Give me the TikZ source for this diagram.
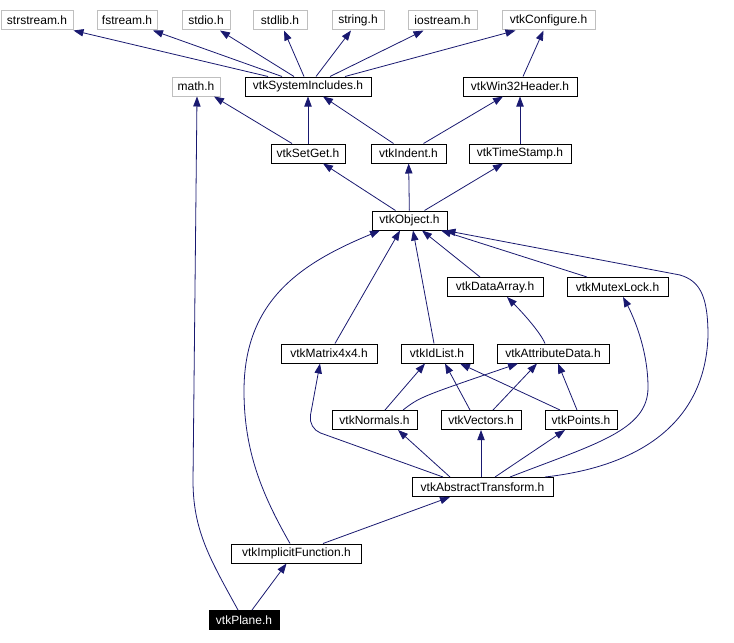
\documentclass[tikz,border=0pt]{standalone}
\usepackage{fontspec}
\setmainfont{Liberation Sans}
\usetikzlibrary{arrows.meta,calc}
\definecolor{dotblue}{RGB}{25,25,112}
\definecolor{extgray}{RGB}{191,191,191}

\begin{document}
\begin{tikzpicture}[x=0.75pt,y=-0.75pt,
  b/.style={draw,line width=0.75pt,fill=white,font=\fontsize{9}{10}\selectfont,inner sep=0pt,minimum height=14.25pt},
  ext/.style={b,draw=extgray},
  root/.style={b,fill=black,text=white},
  wd/.style={minimum width=#1*0.75pt},
  f/.style={-{Triangle[length=7.5pt,width=5.5pt]},dotblue,line width=0.6pt}]
\useasboundingbox (0,0) rectangle (734,642);
\node[ext,wd=72] (strs) at (37,20.5) {strstream.h};
\node[ext,wd=60] (fstr) at (127,20.5) {fstream.h};
\node[ext,wd=48] (stdio) at (206,20.5) {stdio.h};
\node[ext,wd=54] (stdlb) at (280,20.5) {stdlib.h};
\node[ext,wd=52] (strg) at (358,20.5) {string.h};
\node[ext,wd=69] (iostr) at (442.5,20.5) {iostream.h};
\node[ext,wd=93] (conf) at (548.5,20.5) {vtkConfigure.h};
\node[ext,wd=48] (math) at (196,86.5) {math.h};
\node[b,wd=126] (sys) at (308,86.5) {vtkSystemIncludes.h};
\node[b,wd=114] (win) at (520,86.5) {vtkWin32Header.h};
\node[b,wd=74] (setget) at (308,153.5) {vtkSetGet.h};
\node[b,wd=75] (indent) at (408.5,153.5) {vtkIndent.h};
\node[b,wd=102] (tstamp) at (520,153.5) {vtkTimeStamp.h};
\node[b,wd=75] (obj) at (409.5,220.5) {vtkObject.h};
\node[b,wd=96] (darr) at (495,287) {vtkDataArray.h};
\node[b,wd=101] (mutex) at (617.5,287) {vtkMutexLock.h};
\node[b,wd=96] (matrix) at (329,353.5) {vtkMatrix4x4.h};
\node[b,wd=72] (idl) at (437,353.5) {vtkIdList.h};
\node[b,wd=112] (attr) at (553,353.5) {vtkAttributeData.h};
\node[b,wd=85] (norm) at (374.5,420) {vtkNormals.h};
\node[b,wd=80] (vec) at (481,420) {vtkVectors.h};
\node[b,wd=72] (pts) at (581,420) {vtkPoints.h};
\node[b,wd=141] (abs) at (482.5,487) {vtkAbstractTransform.h};
\node[b,wd=130] (impl) at (296.5,553.5) {vtkImplicitFunction.h};
\node[root,wd=70] (plane) at (244,620) {vtkPlane.h};
\draw[f] ($(sys.north)+(-40,0)$)--(strs.south east); \draw[f] ($(sys.north)+(-26,0)$)--($(fstr.south)+(26,0)$);
\draw[f] ($(sys.north)+(-14,0)$)--($(stdio.south)+(14,0)$); \draw[f] ($(sys.north)+(-4,0)$)--($(stdlb.south)+(4,0)$);
\draw[f] ($(sys.north)+(8,0)$)--($(strg.south)+(-7,0)$); \draw[f] ($(sys.north)+(22,0)$)--($(iostr.south)+(-19,0)$);
\draw[f] ($(sys.north)+(37,0)$)--($(conf.south)+(-33,0)$); \draw[f] ($(win.north)+(3,0)$)--($(conf.south)+(-5,0)$);
\draw[f] ($(setget.north)+(-16,0)$)--($(math.south)+(18,0)$); \draw[f] (setget)--(sys);
\draw[f] ($(indent.north)+(-15,0)$)--($(sys.south)+(15,0)$); \draw[f] ($(indent.north)+(15,0)$)--($(win.south)+(-17,0)$);
\draw[f] (tstamp)--(win);
\draw[f] ($(obj.north)+(-14,0)$)--($(setget.south)+(15,0)$); \draw[f] (obj)--(indent);
\draw[f] ($(obj.north)+(15,0)$)--($(tstamp.south)+(-17,0)$);
\draw[f] ($(darr.north)+(-15,0)$)--($(obj.south)+(12.5,0)$); \draw[f] ($(mutex.north)+(-30.5,0)$)--($(obj.south)+(31.5,0)$);
\draw[f] ($(matrix.north)+(6,0)$)--($(obj.south)+(-9.5,0)$); \draw[f] ($(idl.north)+(-3,0)$)--($(obj.south)+(3.5,0)$);
\draw[f] ($(attr.north)+(-8,0)$) .. controls +(-5,-12) and +(14,14) .. ($(darr.south)+(12,0)$);
\draw[f] ($(norm.north)+(10.5,0)$)--($(idl.south)+(-12,0)$); \draw[f] ($(norm.north)+(28.5,0)$) .. controls +(17,-13) .. ($(attr.south)+(-35,0)$);
\draw[f] ($(vec.north)+(-11,0)$)--($(idl.south)+(8,0)$); \draw[f] ($(vec.north)+(12,0)$)--($(attr.south)+(-16,0)$);
\draw[f] ($(pts.north)+(-21,0)$)--($(idl.south)+(23,0)$); \draw[f] ($(pts.north)+(-4,0)$)--($(attr.south)+(5,0)$);
\draw[f,rounded corners=10] ($(abs.north)+(-39.5,0)$)--($(matrix.south)+(-21,65)$)--($(matrix.south)+(-9,0)$);
\draw[f] ($(abs.north)+(-32.5,0)$)--($(norm.south)+(23.5,0)$); \draw[f] (abs.north-|vec.south)--(vec.south);
\draw[f] ($(abs.north)+(12.5,0)$)--($(pts.south)+(-16,0)$);
\draw[f] ($(abs.north)+(27.5,0)$) .. controls +(85,-33) and +(0,43) .. ($(mutex.south)+(30.5,90.5)$) .. controls +(0,-42) and +(7,13) .. ($(mutex.south)+(5.5,0)$);
\draw[f] ($(abs.north)+(62.5,0)$) .. controls +(90,-10) and +(-3,90) .. ($(obj.south)+(298.5,105.5)$) .. controls +(0,-40) and +(20,6) .. ($(obj.south)+(270.5,44.5)$) -- ($(obj.south)+(36,0)$);
\draw[f] ($(impl.north)+(-6.5,0)$) .. controls +(-28,-49) and +(0,60) .. ($(obj.south)+(-165.5,160.5)$) .. controls +(0,-90) and +(-80,33) .. ($(obj.south)+(-29.5,0)$);
\draw[f] ($(impl.north)+(26.5,0)$)--($(abs.south)+(-32.5,0)$);
\draw[f] ($(plane.north)+(-6,0)$) .. controls +(-28,-51) and +(0,50) .. ($(math.south)+(-3,384)$) -- ($(math.south)+(1,0)$);
\draw[f] ($(plane.north)+(8,0)$)--($(impl.south)+(-10,0)$);
\end{tikzpicture}
\end{document}
